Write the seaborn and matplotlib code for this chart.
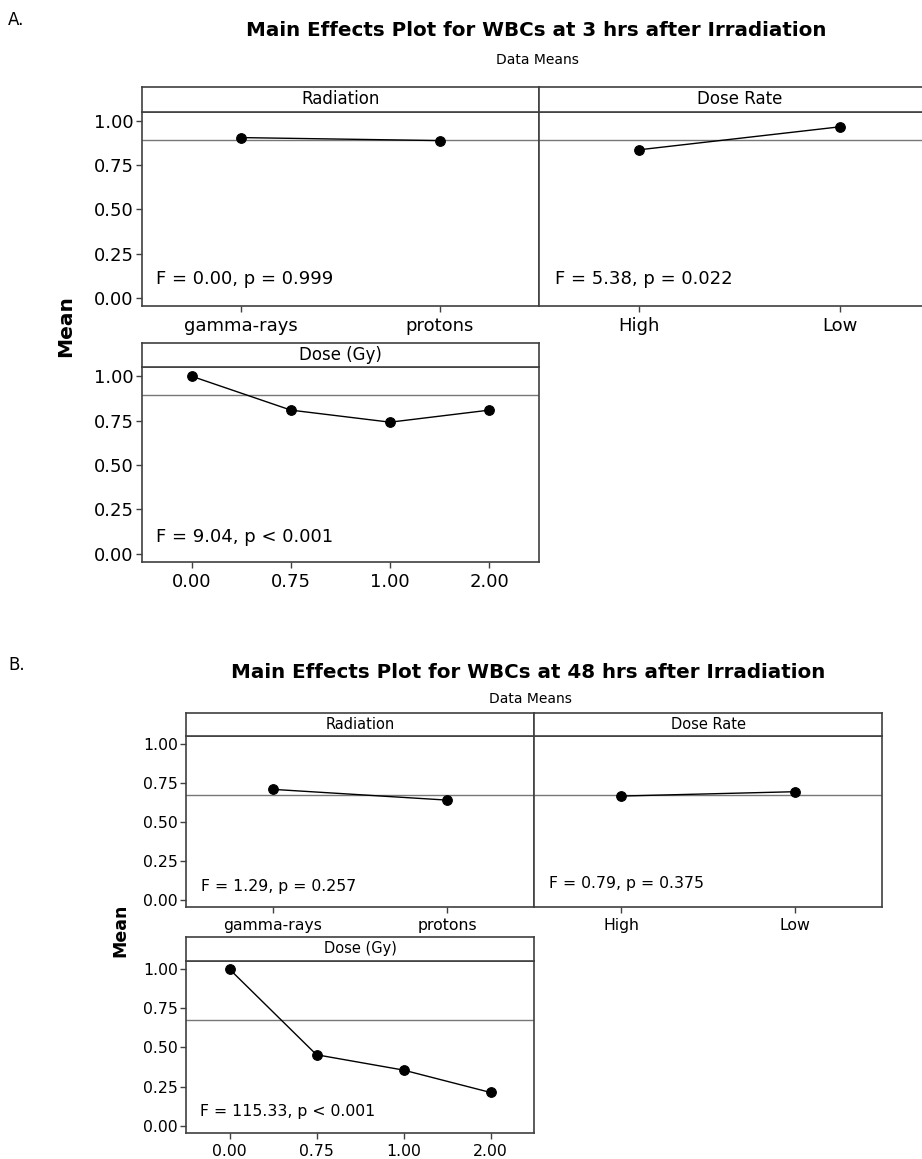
import matplotlib
matplotlib.use("Agg")
import matplotlib.pyplot as plt
import seaborn as sns
import pandas as pd

# ---------------- data ----------------
rad_levels = ["gamma-rays", "protons"]
rate_levels = ["High", "Low"]
dose_levels = ["0.00", "0.75", "1.00", "2.00"]

a_rad = [0.907, 0.890]
a_rate = [0.838, 0.968]
a_dose = [1.00, 0.809, 0.741, 0.809]
a_grand = 0.894
a_stats = ["F = 0.00, p = 0.999", "F = 5.38, p = 0.022", "F = 9.04, p < 0.001"]

b_rad = [0.709, 0.640]
b_rate = [0.666, 0.694]
b_dose = [1.00, 0.453, 0.355, 0.212]
b_grand = 0.675
b_stats = ["F = 1.29, p = 0.257", "F = 0.79, p = 0.375", "F = 115.33, p < 0.001"]

factor_names = ["Radiation", "Dose Rate", "Dose (Gy)"]
yticks = [0.0, 0.25, 0.5, 0.75, 1.0]
ytick_labels = ["0.00", "0.25", "0.50", "0.75", "1.00"]

# ---------------- style ----------------
sns.set_theme(style="white")
plt.rcParams["font.family"] = ["DejaVu Sans"]
plt.rcParams["text.color"] = "black"
plt.rcParams["xtick.color"] = "black"
plt.rcParams["ytick.color"] = "black"
plt.rcParams["axes.labelcolor"] = "black"

W, H = 922, 1159
fig = plt.figure(figsize=(W / 100, H / 100), dpi=100)
fig.patch.set_facecolor("white")

EDGE = "#404040"
YLIM = (-0.047, 1.052)


def box(x0, y0, x1, y1):
    return [x0 / W, 1 - y1 / H, (x1 - x0) / W, (y1 - y0) / H]


def panel(x0, x1, ytop, yline, ybot, levels, values, grand, title, stat,
          fs, sfs, show_y, stat_off, show_right=True):
    ax = fig.add_axes(box(x0, yline, x1, ybot))
    sax = fig.add_axes(box(x0, ytop, x1, yline))
    df = pd.DataFrame({"level": levels, "mean": values})
    ax.axhline(grand, color="#777777", lw=1.0, zorder=1)
    sns.pointplot(data=df, x="level", y="mean", order=levels, color="black",
                  markersize=7, linewidth=1.0, errorbar=None, ax=ax)
    ax.set_xlim(-0.5, len(levels) - 0.5)
    ax.set_ylim(*YLIM)
    ax.set_xlabel("")
    ax.set_ylabel("")
    ax.set_yticks(yticks)
    ax.tick_params(axis="x", direction="out", length=4, width=1, color=EDGE,
                   labelsize=fs, labelcolor="black", pad=4, bottom=True)
    if show_y:
        ax.set_yticklabels(ytick_labels)
        ax.tick_params(axis="y", direction="out", length=4, width=1, color=EDGE,
                       labelsize=fs, labelcolor="black", pad=2, left=True)
    else:
        ax.tick_params(axis="y", left=False, labelleft=False)
    for name, sp in ax.spines.items():
        sp.set_color(EDGE)
        sp.set_linewidth(1.2)
    if not show_right:
        ax.spines["right"].set_visible(False)
    ax.annotate(stat, xy=(0, 0), xycoords="axes fraction",
                xytext=stat_off, textcoords="offset pixels",
                fontsize=fs, va="baseline", ha="left", color="black")
    sax.set_xticks([])
    sax.set_yticks([])
    for name, sp in sax.spines.items():
        sp.set_color(EDGE)
        sp.set_linewidth(1.2)
    if not show_right:
        sax.spines["right"].set_visible(False)
    sax.text(0.5, 0.5, title, transform=sax.transAxes, ha="center",
             va="center", fontsize=sfs, color="black")
    return ax


# ---------------- Panel A ----------------
fig.text(8 / W, 1 - 20 / H, "A.", fontsize=12, ha="left", va="center")
fig.text(536 / W, 1 - 30 / H, "Main Effects Plot for WBCs at 3 hrs after Irradiation",
         fontsize=14.3, fontweight="bold", ha="center", va="center")
fig.text(537 / W, 1 - 60 / H, "Data Means", fontsize=10, ha="center", va="center")

panel(142, 539, 87, 112, 306, rad_levels, a_rad, a_grand, factor_names[0],
      a_stats[0], 13, 12, True, (14, 22))
panel(539, 940, 87, 112, 306, rate_levels, a_rate, a_grand, factor_names[1],
      a_stats[1], 13, 12, False, (16, 22), show_right=False)
panel(142, 539, 343, 367, 562, dose_levels, a_dose, a_grand, factor_names[2],
      a_stats[2], 13, 12, True, (14, 20))
fig.text(66 / W, 1 - 326 / H, "Mean", fontsize=14.5, fontweight="bold",
         rotation=90, ha="center", va="center")

# ---------------- Panel B ----------------
fig.text(8 / W, 1 - 665 / H, "B.", fontsize=12, ha="left", va="center")
fig.text(528 / W, 1 - 672 / H, "Main Effects Plot for WBCs at 48 hrs after Irradiation",
         fontsize=14.3, fontweight="bold", ha="center", va="center")
fig.text(530 / W, 1 - 699 / H, "Data Means", fontsize=10, ha="center", va="center")

panel(186, 534, 713, 736, 907, rad_levels, b_rad, b_grand, factor_names[0],
      b_stats[0], 11.3, 10.5, True, (15, 16))
panel(534, 882, 713, 736, 907, rate_levels, b_rate, b_grand, factor_names[1],
      b_stats[1], 11.3, 10.5, False, (15, 19))
panel(186, 534, 937, 961, 1133, dose_levels, b_dose, b_grand, factor_names[2],
      b_stats[2], 11.3, 10.5, True, (14, 17))
fig.text(120 / W, 1 - 930 / H, "Mean", fontsize=12.5, fontweight="bold",
         rotation=90, ha="center", va="center")

fig.savefig("out.png", dpi=100)
